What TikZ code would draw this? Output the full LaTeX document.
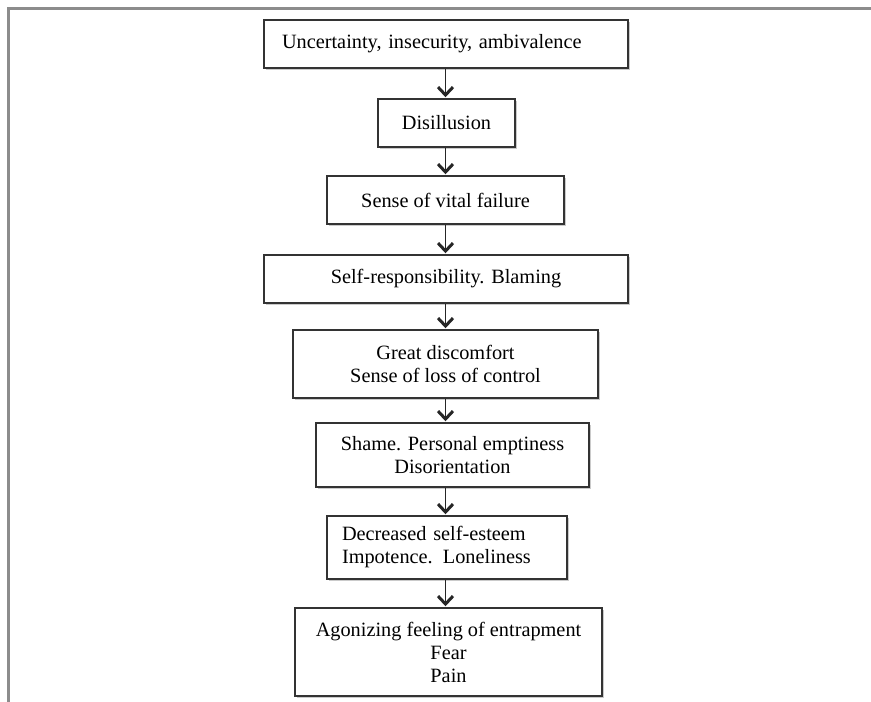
\documentclass[tikz,border=0pt]{standalone}
\usepackage{fontspec}
\setmainfont{Liberation Serif}
\usetikzlibrary{arrows.meta,shadows}
\begin{document}
\begin{tikzpicture}[x=1pt,y=1pt,
  stagebox/.style={draw=black!80, line width=1.5pt, fill=white, rectangle,
    inner sep=0pt, align=center, font=\fontsize{20.3}{23}\selectfont,
    drop shadow={shadow xshift=1.5pt, shadow yshift=-1.5pt, fill=black!35, opacity=0.6}},
  flow/.style={draw=black!85, line width=1.6pt,
    -{Straight Barb[length=8pt,width=15pt,line width=3pt]}, shorten >=1pt},
  frame/.style={draw=black!45, line width=2.5pt}]
\useasboundingbox (0,0) rectangle (871,-702);
% outer frame (top and left edges)
\draw[frame] (871,-8.5) -- (8.5,-8.5) -- (8.5,-702);
% boxes
\node[stagebox, minimum width=364pt, minimum height=48pt, text width=328pt, align=left, inner xsep=18pt]
  (b1) at (446,-44) {Uncertainty, insecurity, ambivalence};
\node[stagebox, minimum width=137pt, minimum height=48pt] (b2) at (446.5,-123) {Disillusion};
\node[stagebox, minimum width=237pt, minimum height=48pt] (b3) at (445.5,-200) {Sense of vital failure};
\node[stagebox, minimum width=364pt, minimum height=48pt] (b4) at (446,-279) {Self-responsibility. Blaming};
\node[stagebox, minimum width=305pt, minimum height=68pt] (b5) at (445.5,-364) {Great discomfort\\Sense of loss of control};
\node[stagebox, minimum width=273pt, minimum height=64pt] (b6) at (452.5,-455) {Shame. Personal emptiness\\Disorientation};
\node[stagebox, minimum width=240pt, minimum height=63pt, text width=210pt, align=left, inner xsep=15pt]
  (b7) at (447,-547.5) {Decreased self-esteem\\Impotence. Loneliness};
\node[stagebox, minimum width=307pt, minimum height=88pt] (b8) at (448.5,-652) {Agonizing feeling of entrapment\\Fear\\Pain};
% connectors
\coordinate (x) at (445.5,0);
\draw[flow] (b1.south -| x) -- (b2.north -| x);
\draw[flow] (b2.south -| x) -- (b3.north -| x);
\draw[flow] (b3.south -| x) -- (b4.north -| x);
\draw[flow] (b4.south -| x) -- (b5.north -| x);
\draw[flow] (b5.south -| x) -- (b6.north -| x);
\draw[flow] (b6.south -| x) -- (b7.north -| x);
\draw[flow] (b7.south -| x) -- (b8.north -| x);
\end{tikzpicture}
\end{document}
